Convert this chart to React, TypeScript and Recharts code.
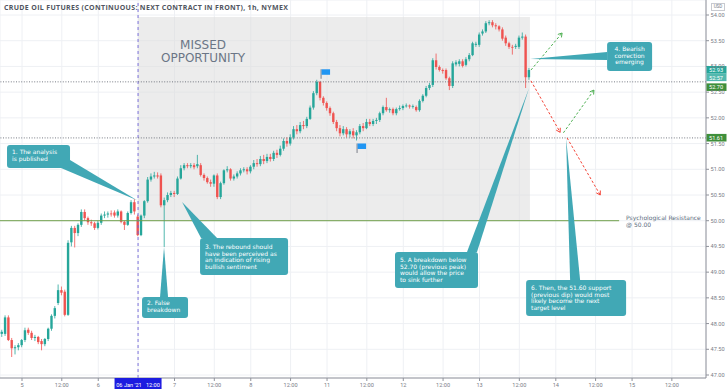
import React from "react";
import {
  ComposedChart,
  Bar,
  XAxis,
  YAxis,
  CartesianGrid,
  ReferenceLine,
  ReferenceArea,
  ReferenceDot,
} from "recharts";

// ---------- DATA ----------
const TITLE = "CRUDE OIL FUTURES (CONTINUOUS: NEXT CONTRACT IN FRONT), 1h, NYMEX";

// hourly bar index (23 bars per trading day)
const barIndex: number[] = Array.from({ length: 160 }, (_, k) => k + 1);

const opens: number[] = [
  47.80, 47.80, 48.12, 47.68, 47.52, 47.54, 47.58, 47.68, 47.88, 47.82,
  47.72, 47.74, 47.66, 47.60, 47.70, 47.90, 48.15, 48.40, 48.65, 48.62,
  48.17, 49.58, 49.86, 49.76, 49.92, 50.17, 50.05, 49.97, 49.95, 49.86,
  49.96, 50.10, 50.12, 50.14, 50.16, 50.10, 50.18, 49.98, 49.92, 50.15,
  50.36, 50.08, 49.72, 50.10, 50.38, 50.80, 50.86, 50.88, 50.88, 50.30,
  50.40, 50.50, 50.54, 50.52, 50.82, 51.02, 51.08, 51.06, 51.08, 51.06,
  51.08, 50.89, 50.83, 50.75, 50.72, 50.88, 50.46, 50.73, 50.98, 51.00,
  50.82, 50.86, 50.92, 50.98, 51.00, 50.96, 51.05, 51.12, 51.10, 51.20,
  51.16, 51.24, 51.20, 51.32, 51.28, 51.40, 51.55, 51.50, 51.62, 51.78,
  51.74, 51.86, 51.84, 51.98, 52.20, 52.48, 52.70, 52.39, 52.29, 52.19,
  52.09, 51.92, 51.80, 51.70, 51.78, 51.68, 51.74, 51.66, 51.72, 51.84,
  51.80, 51.92, 51.88, 51.94, 51.96, 52.09, 52.21, 52.15, 52.17, 52.09,
  52.17, 52.19, 52.23, 52.24, 52.22, 52.21, 52.15, 52.33, 52.43, 52.58,
  52.64, 53.12, 52.99, 52.93, 52.93, 52.77, 52.62, 53.04, 53.05, 53.10,
  53.03, 53.14, 53.22, 53.42, 53.42, 53.64, 53.68, 53.84, 53.86, 53.80,
  53.78, 53.72, 53.56, 53.45, 53.38, 53.38, 53.38, 53.56, 53.58, 52.79,
];
const highs: number[] = [
  47.88, 48.16, 48.16, 47.72, 47.58, 47.62, 47.70, 47.92, 47.92, 47.86,
  47.78, 47.76, 47.70, 47.72, 47.92, 48.18, 48.34, 48.76, 48.72, 48.66,
  49.62, 49.90, 49.90, 49.95, 50.22, 50.22, 50.08, 50.02, 49.98, 50.00,
  50.14, 50.18, 50.18, 50.20, 50.20, 50.22, 50.20, 50.00, 50.18, 50.40,
  50.42, 50.12, 50.12, 50.40, 50.85, 50.92, 50.95, 50.94, 50.92, 50.45,
  50.55, 50.58, 50.58, 50.86, 51.08, 51.12, 51.12, 51.12, 51.12, 51.28,
  51.12, 50.92, 50.86, 50.80, 50.90, 50.92, 50.76, 51.00, 51.06, 51.02,
  50.90, 50.96, 51.02, 51.04, 51.04, 51.08, 51.18, 51.20, 51.26, 51.28,
  51.30, 51.30, 51.36, 51.38, 51.46, 51.60, 51.62, 51.68, 51.84, 51.86,
  51.92, 51.94, 52.02, 52.24, 52.52, 52.74, 52.72, 52.42, 52.32, 52.22,
  52.12, 51.96, 51.86, 51.84, 51.82, 51.78, 51.80, 51.76, 51.88, 51.90,
  51.98, 51.98, 51.98, 52.00, 52.12, 52.24, 52.39, 52.20, 52.20, 52.20,
  52.24, 52.26, 52.28, 52.26, 52.26, 52.24, 52.36, 52.46, 52.62, 52.68,
  53.16, 53.25, 53.02, 52.96, 52.96, 52.80, 53.10, 53.12, 53.14, 53.14,
  53.18, 53.26, 53.48, 53.48, 53.66, 53.72, 53.88, 53.90, 53.90, 53.84,
  53.80, 53.76, 53.60, 53.48, 53.42, 53.44, 53.60, 53.66, 53.62, 52.97,
];
const lows: number[] = [
  47.74, 47.76, 47.66, 47.35, 47.40, 47.48, 47.54, 47.64, 47.78, 47.68,
  47.66, 47.60, 47.48, 47.56, 47.66, 47.86, 48.10, 48.36, 48.55, 48.14,
  48.15, 49.50, 49.48, 49.70, 49.88, 50.00, 49.92, 49.90, 49.82, 49.83,
  49.92, 50.05, 50.06, 50.08, 50.06, 50.06, 49.95, 49.82, 49.90, 50.12,
  50.12, 49.70, 49.70, 50.05, 50.35, 50.76, 50.82, 50.82, 50.26, 49.49,
  50.36, 50.46, 50.46, 50.50, 50.80, 50.98, 51.02, 51.02, 51.00, 51.02,
  50.86, 50.78, 50.72, 50.66, 50.66, 50.42, 50.42, 50.70, 50.94, 50.78,
  50.78, 50.82, 50.88, 50.94, 50.90, 50.92, 51.00, 51.05, 51.06, 51.10,
  51.12, 51.15, 51.16, 51.22, 51.25, 51.36, 51.44, 51.46, 51.58, 51.68,
  51.70, 51.78, 51.80, 51.96, 52.16, 52.44, 52.34, 52.24, 52.14, 52.04,
  51.88, 51.74, 51.64, 51.66, 51.62, 51.62, 51.60, 51.56, 51.68, 51.74,
  51.78, 51.84, 51.84, 51.88, 51.92, 52.05, 52.12, 52.10, 52.05, 52.05,
  52.14, 52.15, 52.20, 52.18, 52.18, 52.12, 52.12, 52.30, 52.40, 52.54,
  52.60, 52.94, 52.90, 52.86, 52.74, 52.54, 52.58, 53.00, 53.00, 52.98,
  53.00, 53.10, 53.20, 53.38, 53.38, 53.60, 53.65, 53.80, 53.76, 53.72,
  53.68, 53.50, 53.40, 53.34, 53.23, 53.34, 53.34, 53.52, 52.58, 52.74,
];
const closes: number[] = [
  47.84, 48.12, 47.68, 47.52, 47.54, 47.58, 47.68, 47.87, 47.82, 47.72,
  47.74, 47.64, 47.60, 47.70, 47.90, 48.15, 48.30, 48.65, 48.60, 48.17,
  49.57, 49.86, 49.76, 49.92, 50.17, 50.05, 49.97, 49.95, 49.86, 49.96,
  50.10, 50.12, 50.14, 50.13, 50.10, 50.18, 49.98, 49.92, 50.15, 50.36,
  50.18, 49.72, 50.10, 50.38, 50.80, 50.86, 50.88, 50.86, 50.30, 50.40,
  50.50, 50.54, 50.52, 50.82, 51.02, 51.08, 51.06, 51.08, 51.04, 51.10,
  50.89, 50.83, 50.75, 50.72, 50.88, 50.46, 50.73, 50.98, 51.00, 50.82,
  50.86, 50.92, 50.98, 51.00, 50.96, 51.05, 51.12, 51.10, 51.20, 51.16,
  51.24, 51.20, 51.32, 51.28, 51.40, 51.55, 51.50, 51.62, 51.78, 51.74,
  51.86, 51.84, 51.98, 52.20, 52.48, 52.70, 52.39, 52.29, 52.19, 52.09,
  51.92, 51.80, 51.70, 51.78, 51.68, 51.74, 51.66, 51.72, 51.84, 51.80,
  51.92, 51.88, 51.94, 51.96, 52.09, 52.21, 52.15, 52.17, 52.09, 52.17,
  52.19, 52.23, 52.24, 52.22, 52.23, 52.15, 52.33, 52.43, 52.58, 52.64,
  53.12, 52.99, 52.93, 52.91, 52.77, 52.62, 53.06, 53.08, 53.10, 53.01,
  53.14, 53.22, 53.45, 53.44, 53.62, 53.68, 53.84, 53.86, 53.80, 53.78,
  53.72, 53.54, 53.45, 53.38, 53.37, 53.40, 53.56, 53.58, 52.79, 52.93,
];

const xTicks: number[] = [7, 19, 30, 42, 53, 65, 76, 88, 99, 111, 122, 134, 145, 157, 168, 180, 191, 203];
const xTickLabels: string[] = [
  "5", "12:00", "6", "06 Jan '21   12:00", "7", "12:00", "8", "12:00", "11",
  "12:00", "12", "12:00", "13", "12:00", "14", "12:00", "15", "12:00",
];
const yTicks: number[] = [47, 47.5, 48, 48.5, 49, 49.5, 50, 50.5, 51, 51.5, 52, 52.5, 53, 53.5, 54];

const PSYCH_LEVEL = 50.0;
const PREV_PEAK = 52.7;
const PREV_DIP = 51.61;
const LAST_PRICE = 52.93;

// ---------- STYLE / LAYOUT ----------
const W = 728;
const H = 391;
const X_DOMAIN: [number, number] = [0.363, 213.3];
const Y_DOMAIN: [number, number] = [46.9417, 54.2917];
const UP = "#26a69a";
const DOWN = "#ef5350";
const CALLOUT = "#41a8b5";
const AXIS = "#8f929b";
const FONT = "'DejaVu Sans', Verdana, sans-serif";

const data = barIndex.map((t, k) => ({
  t,
  open: opens[k],
  high: highs[k],
  low: lows[k],
  close: closes[k],
  range: [lows[k], highs[k]],
}));

const BODY = 2.4;
const Candle = (props: any) => {
  const { x, y, width, height, payload } = props;
  if (x == null || y == null || !payload) return null;
  const top = Math.min(y, y + height);
  const h = Math.abs(height);
  const { open, high, low, close } = payload;
  const ppu = h / (high - low);
  const yOf = (p: number) => top + (high - p) * ppu;
  const color = close >= open ? UP : DOWN;
  const cx = x + width / 2;
  const bt = yOf(Math.max(open, close));
  const bb = yOf(Math.min(open, close));
  return (
    <g>
      <line x1={cx} x2={cx} y1={top} y2={top + h} stroke={color} strokeWidth={0.8} />
      <rect x={cx - BODY / 2} y={bt} width={BODY} height={Math.max(bb - bt, 0.8)} fill={color} />
    </g>
  );
};

const XTick = (props: any) => {
  const { x, y, payload } = props;
  const idx = xTicks.indexOf(payload.value);
  const label = idx >= 0 ? xTickLabels[idx] : "";
  if (label.includes("Jan")) {
    return (
      <g>
        <rect x={x - 23.5} y={y - 3} width={47} height={11} fill="#1c1ce0" />
        <text x={x} y={y + 5.8} textAnchor="middle" fontSize={5.6} fill="#ffffff" fontFamily="Roboto, sans-serif" style={{ whiteSpace: "pre" }}>
          {label}
        </text>
      </g>
    );
  }
  return (
    <text x={x} y={y + 6} textAnchor="middle" fontSize={5.6} fill="#7a7d87" fontFamily="Roboto, sans-serif">
      {label}
    </text>
  );
};

const YTick = (props: any) => {
  const { x, y, payload } = props;
  return (
    <text x={x + 1.5} y={y + 2} textAnchor="start" fontSize={5.6} fill="#7a7d87" fontFamily="Roboto, sans-serif">
      {Number(payload.value).toFixed(2)}
    </text>
  );
};

// callouts: tip and box corner in chart units
type Callout = {
  tip: { x: number; y: number };
  box: { x: number; y: number };
  w: number;
  h: number;
  base: [number, number, number, number];
  lines: string[];
  center?: boolean;
  first: number;
};
const callouts: Callout[] = [
  { tip: { x: 41.7, y: 50.40 }, box: { x: 2.48, y: 51.472 }, w: 63, h: 23, base: [54, 23, 63, 15], lines: ["1. The analysis", "is published"], first: 9 },
  { tip: { x: 49.84, y: 49.49 }, box: { x: 43.2, y: 48.517 }, w: 46, h: 21, base: [18, 0, 26, 0], lines: ["2. False", "breakdown"], first: 8.5 },
  { tip: { x: 55.27, y: 50.364 }, box: { x: 60.7, y: 49.664 }, w: 88, h: 37, base: [1, 0, 17, 0], lines: ["3. The rebound should", "have been perceived as", "an indication of rising", "bullish sentiment"], first: 11 },
  { tip: { x: 160.25, y: 53.144 }, box: { x: 183.47, y: 53.475 }, w: 45, h: 29, base: [0, 10, 0, 18], lines: ["4. Bearish", "correction", "emerging"], center: true, first: 9 },
  { tip: { x: 159.94, y: 52.58 }, box: { x: 119.5, y: 49.392 }, w: 83, h: 36, base: [72, 0, 82, 0], lines: ["5. A breakdown below", "52.70 (previous peak)", "would allow the price", "to sink further"], first: 10 },
  { tip: { x: 171.1, y: 51.61 }, box: { x: 159.04, y: 48.847 }, w: 100, h: 36, base: [44, 0, 54, 0], lines: ["6. Then, the 51.60 support", "(previous dip) would most", "likely become the next", "target level"], first: 10 },
];

const makeCalloutShape = (c: Callout) => (props: any) => {
  const { x1, y1, x2, y2 } = props;
  if (x1 == null) return null;
  const [ax, ay, bx, by] = c.base;
  const tail = `${x1},${y1} ${x2 + ax},${y2 + ay} ${x2 + bx},${y2 + by}`;
  return (
    <g>
      <polygon points={tail} fill={CALLOUT} />
      <rect x={x2} y={y2} width={c.w} height={c.h} rx={3} ry={3} fill={CALLOUT} />
      {c.lines.map((ln, i) => (
        <text
          key={i}
          x={c.center ? x2 + c.w / 2 : x2 + 5}
          y={y2 + c.first + i * 6.7}
          textAnchor={c.center ? "middle" : "start"}
          fontSize={6}
          fill="#ffffff"
          fontFamily={FONT}
        >
          {ln}
        </text>
      ))}
    </g>
  );
};

type Proj = { from: { x: number; y: number }; to: { x: number; y: number }; color: string };
const projections: Proj[] = [
  { from: { x: 160.5, y: 52.93 }, to: { x: 169.9, y: 53.65 }, color: "#4caf50" },
  { from: { x: 160.5, y: 52.72 }, to: { x: 169.3, y: 51.72 }, color: "#f44336" },
  { from: { x: 170.3, y: 51.71 }, to: { x: 179.5, y: 52.54 }, color: "#4caf50" },
  { from: { x: 171.4, y: 51.61 }, to: { x: 181.4, y: 50.50 }, color: "#f44336" },
];

const makeArrow = (color: string, head: boolean) => (props: any) => {
  const { x1, y1, x2, y2 } = props;
  if (x1 == null) return null;
  const ang = Math.atan2(y2 - y1, x2 - x1);
  const L = 4.5;
  const a = 0.55;
  const p1 = `${x2 - L * Math.cos(ang - a)},${y2 - L * Math.sin(ang - a)}`;
  const p2 = `${x2 - L * Math.cos(ang + a)},${y2 - L * Math.sin(ang + a)}`;
  return (
    <g>
      <line x1={x1} y1={y1} x2={x2} y2={y2} stroke={color} strokeWidth={1} strokeDasharray="2.5 2" />
      {head && <polyline points={`${p1} ${x2},${y2} ${p2}`} fill="none" stroke={color} strokeWidth={1} />}
    </g>
  );
};

type PriceTag = { price: number; text: string; color: string; dy: number };
const priceTags: PriceTag[] = [
  { price: LAST_PRICE, text: "52.93", color: "#26a69a", dy: 0 },
  { price: LAST_PRICE, text: "52:57", color: "#52b8ae", dy: 7.5 },
  { price: PREV_PEAK, text: "52.70", color: "#3f8f3a", dy: 5.5 },
  { price: PREV_DIP, text: "51.61", color: "#3f8f3a", dy: 0 },
];
const makeTag = (tg: PriceTag) => (props: any) => {
  const { cx, cy } = props;
  if (cx == null) return null;
  const yc = cy + tg.dy;
  return (
    <g>
      <rect x={cx + 0.5} y={yc - 4} width={20} height={7.6} fill={tg.color} />
      <text x={cx + 3} y={yc + 2} fontSize={5.6} fill="#ffffff" fontFamily="Roboto, sans-serif">
        {tg.text}
      </text>
    </g>
  );
};

const Flag = (props: any) => {
  const { cx, cy } = props;
  if (cx == null) return null;
  return (
    <g>
      <line x1={cx} y1={cy} x2={cx} y2={cy - 9.5} stroke="#7b7e88" strokeWidth={1} />
      <rect x={cx + 0.5} y={cy - 9.5} width={8.5} height={5.5} fill="#2196f3" />
    </g>
  );
};

const Missed = (props: any) => {
  const { cx, cy } = props;
  if (cx == null) return null;
  return (
    <g>
      <text x={cx} y={cy} textAnchor="middle" fontSize={12} fill="#6b7686" fontFamily={FONT}>MISSED</text>
      <text x={cx} y={cy + 13} textAnchor="middle" fontSize={12} fill="#6b7686" fontFamily={FONT}>OPPORTUNITY</text>
    </g>
  );
};

const PsychText = (props: any) => {
  const { cx, cy } = props;
  if (cx == null) return null;
  return (
    <g>
      <text x={cx} y={cy - 0.5} fontSize={6} fill="#5b6b7d" fontFamily={FONT}>Psychological Resistance</text>
      <text x={cx} y={cy + 6} fontSize={6} fill="#5b6b7d" fontFamily={FONT}>@ 50.00</text>
    </g>
  );
};

export default function App() {
  return (
    <div style={{ position: "absolute", left: 0, top: 0, width: W, height: H, background: "#ffffff", overflow: "hidden" }}>
      <ComposedChart width={W} height={H} data={data} margin={{ top: 0, right: 0, bottom: 0, left: 0 }}>
        <CartesianGrid stroke="#eef0f4" strokeWidth={1} />
        <XAxis
          dataKey="t"
          type="number"
          domain={X_DOMAIN}
          allowDataOverflow
          ticks={xTicks}
          interval={0}
          height={13}
          tickSize={3}
          tickMargin={0}
          tick={<XTick />}
          axisLine={{ stroke: AXIS }}
          tickLine={{ stroke: AXIS }}
        />
        <YAxis
          orientation="right"
          type="number"
          domain={Y_DOMAIN}
          allowDataOverflow
          ticks={yTicks}
          interval={0}
          width={22}
          tickSize={3}
          tickMargin={0}
          tick={<YTick />}
          axisLine={{ stroke: AXIS }}
          tickLine={{ stroke: AXIS }}
        />
        <ReferenceArea x1={42} x2={160.2} y1={PSYCH_LEVEL} y2={53.96} fill="#dcdcdc" fillOpacity={0.55} stroke="none" />
        <ReferenceLine x={42} stroke="#6f63d8" strokeDasharray="3 3" strokeWidth={0.9} />
        <ReferenceLine segment={[{ x: X_DOMAIN[0], y: PSYCH_LEVEL }, { x: 187.1, y: PSYCH_LEVEL }]} stroke="#6f9f4a" strokeWidth={1} />
        <ReferenceLine y={PREV_PEAK} stroke="#555a66" strokeDasharray="1 1.6" strokeWidth={0.8} />
        <ReferenceLine y={PREV_DIP} stroke="#555a66" strokeDasharray="1 1.6" strokeWidth={0.8} />
        <Bar dataKey="range" barSize={2.6} isAnimationActive={false} shape={<Candle />} />
        <ReferenceDot x={61.6} y={53.339} r={0} ifOverflow="visible" shape={<Missed />} />
        <ReferenceDot x={189.2} y={PSYCH_LEVEL} r={0} ifOverflow="visible" shape={<PsychText />} />
        <ReferenceDot x={97.2} y={52.76} r={0} ifOverflow="visible" shape={<Flag />} />
        <ReferenceDot x={108.06} y={51.317} r={0} ifOverflow="visible" shape={<Flag />} />
        {projections.map((p, i) => (
          <ReferenceLine key={"p" + i} segment={[p.from, p.to]} ifOverflow="visible" shape={makeArrow(p.color, true)} />
        ))}
        {callouts.map((c, i) => (
          <ReferenceLine key={"c" + i} segment={[c.tip, c.box]} ifOverflow="visible" shape={makeCalloutShape(c)} />
        ))}
        {priceTags.map((tg, i) => (
          <ReferenceDot key={"t" + i} x={X_DOMAIN[1]} y={tg.price} r={0} ifOverflow="visible" shape={makeTag(tg)} />
        ))}
      </ComposedChart>
      <div style={{ position: "absolute", left: 4, top: 3.5, fontFamily: "'Open Sans', sans-serif", fontWeight: 700, fontSize: 7, letterSpacing: "0.33px", color: "#505560", whiteSpace: "nowrap", lineHeight: "7px" }}>
        {TITLE}
      </div>
      <div style={{ position: "absolute", left: 711, top: 3, width: 12, height: 6, border: "0.6px solid #c8cad0", fontFamily: "Roboto, sans-serif", fontSize: 4.6, color: "#7a7d87", lineHeight: "6px", textAlign: "center", background: "#fff" }}>
        USD
      </div>
    </div>
  );
}
